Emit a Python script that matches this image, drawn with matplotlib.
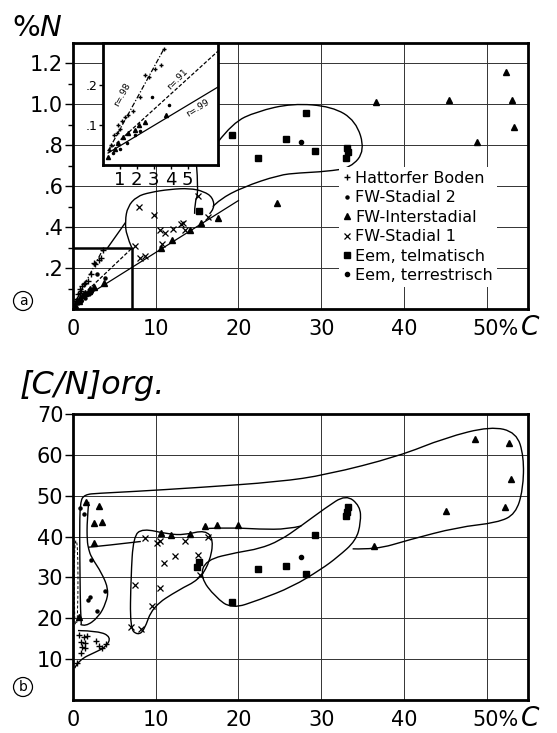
import matplotlib
matplotlib.use("Agg")
import matplotlib.pyplot as plt
import numpy as np
from matplotlib.path import Path
from matplotlib.patches import PathPatch
from matplotlib.lines import Line2D

# ---- panel a: %N against %C ----
hb_c_a = [0.35, 0.47, 0.65, 0.8, 0.9, 1.0, 1.1, 1.3, 1.5, 1.8, 2.2, 2.5, 2.7, 3.1, 3.4, 3.6]
hb_n_a = [0.037, 0.05, 0.075, 0.08, 0.1, 0.09, 0.11, 0.12, 0.125, 0.135, 0.17, 0.225, 0.22, 0.24, 0.25, 0.29]
fw2_c_a = [0.6, 1.0, 1.4, 1.9, 2.2, 2.9, 3.9]
fw2_n_a = [0.03, 0.04, 0.055, 0.075, 0.085, 0.17, 0.15]
fwi_c_a = [0.3, 0.7, 0.9, 1.2, 1.5, 1.9, 2.1, 2.5, 3.7, 10.6, 12.0, 14.2, 15.5, 17.5, 24.6,
           36.6, 45.4, 48.8, 52.3, 53.1, 53.3]
fwi_n_a = [0.02, 0.04, 0.055, 0.07, 0.08, 0.088, 0.1, 0.107, 0.125, 0.30, 0.335, 0.385, 0.42, 0.445, 0.52,
           1.01, 1.02, 0.815, 1.16, 1.02, 0.89]
fw1_c_a = [7.5, 8.0, 8.1, 8.7, 9.8, 10.5, 10.8, 11.1, 12.1, 13.1, 13.3, 13.5, 15.1, 16.3]
fw1_n_a = [0.31, 0.50, 0.25, 0.26, 0.46, 0.385, 0.32, 0.37, 0.39, 0.415, 0.42, 0.385, 0.55, 0.45]
telm_c_a = [15.2, 19.2, 22.4, 25.8, 28.2, 29.3, 33.0, 33.1, 33.3]
telm_n_a = [0.48, 0.85, 0.74, 0.83, 0.96, 0.77, 0.74, 0.785, 0.765]
terr_c_a = [27.5]
terr_n_a = [0.815]

# regression lines (r values from the inset)
reg98_c = [0.3, 3.6]
reg98_n = [0.035, 0.29]
reg91_c = [0.3, 7.2]
reg91_n = [0.035, 0.30]
reg99_c = [0.3, 20.0]
reg99_n = [0.03, 0.53]

# hand drawn outlines, panel a
telm_env_a_c = [17.5, 19.3, 22.2, 26.5, 31.3, 34.2, 35.3, 33.6, 30.6, 27.3, 24.9, 20.5, 17.7, 16.9]
telm_env_a_n = [0.815, 0.91, 0.965, 1.005, 0.99, 0.92, 0.775, 0.69, 0.672, 0.665, 0.655, 0.595, 0.535, 0.50]
s1_env_a_c = [7.1, 6.45, 6.3, 6.6, 7.7, 9.3, 11.7, 14.1, 15.8, 16.9, 17.1, 16.5]
s1_env_a_n = [0.30, 0.36, 0.43, 0.50, 0.55, 0.57, 0.585, 0.59, 0.575, 0.545, 0.49, 0.465]
s1_edge_a_c = [4.2, 6.3]
s1_edge_a_n = [0.30, 0.42]
pointer_a_c = [14.9, 15.2, 14.7, 14.7]
pointer_a_n = [0.72, 0.57, 0.52, 0.465]
box_a_c = [0, 7.1, 7.1]
box_a_n = [0.30, 0.30, 0]

# ---- panel b: C/N against %C ----
hb_c_b = [0.5, 0.7, 1.0, 1.0, 1.1, 1.3, 1.5, 1.5, 1.7, 2.8, 3.1, 3.5, 4.0]
hb_cn_b = [9, 16, 14.2, 11.5, 13, 15.5, 14, 12.7, 15.7, 14.5, 13.2, 12.7, 13.7]
fw2_c_b = [0.9, 1.3, 1.8, 2.0, 2.2, 2.9, 3.9]
fw2_cn_b = [47, 45.6, 24.5, 25.3, 34.3, 21.8, 26.7]
fwi_c_b = [0.7, 1.6, 2.5, 2.5, 3.2, 3.5, 10.6, 11.9, 14.1, 15.9, 17.4, 20.0, 36.4, 45.1, 48.6, 52.2, 52.7, 53.0]
fwi_cn_b = [20.3, 48.5, 43.4, 38.5, 47.5, 43.6, 40.9, 40.4, 40.7, 42.6, 42.9, 42.9, 37.7, 46.3, 64, 47.3, 63, 54]
fw1_c_b = [7.0, 7.5, 8.2, 8.7, 9.6, 10.2, 10.5, 10.5, 11.0, 12.3, 13.5, 15.1, 15.3, 16.3]
fw1_cn_b = [17.9, 28.2, 17.4, 39.6, 22.9, 38.5, 39.0, 27.5, 33.6, 35.3, 39.0, 35.5, 30.6, 40.0]
telm_c_b = [15.0, 15.2, 19.2, 22.4, 25.8, 28.2, 29.3, 33.0, 33.1, 33.2]
telm_cn_b = [32.5, 33.8, 24.0, 32.1, 32.8, 30.9, 40.4, 45.0, 46.0, 47.3]
terr_c_b = [27.5]
terr_cn_b = [35.0]

# hand drawn outlines, panel b
big_env_b_c = [1.0, 0.9, 0.85, 0.8, 0.85, 1.4, 3.1, 7.1, 15.2, 24.9, 30.6, 39.3, 45.0, 50.5, 53.6, 54.5,
               54.4, 53.5, 51.3, 46.5, 40.6, 36.6, 33.8]
big_env_b_cn = [18.5, 22, 30, 40, 48.5, 50.3, 50.6, 51, 52, 53.4, 55.1, 59.6, 64.2, 67.0, 65.5, 59.6,
                51.5, 45.5, 43.4, 42.3, 39.2, 36.8, 37.0]
stem_env_b_c = [1.9, 1.7, 1.7, 1.9, 2.2, 3.5, 4.3, 4.0, 3.1, 1.5, 0.9]
stem_env_b_cn = [48.5, 44, 39, 36.8, 35, 31, 27, 23.8, 20.3, 17.9, 18.5]
hb_env_b_c = [0.6, 3.1, 4.6, 4.0, 2.8, 0.7, 0.2]
hb_env_b_cn = [17.0, 16.9, 15.4, 13, 11.8, 9.8, 7.8]
band_low_b_c = [1.9, 4.0, 8.2]
band_low_b_cn = [37.4, 37.8, 38.8]
band_up_b_c = [16.4, 19.2, 22.5, 26.0, 27.6]
band_up_b_cn = [42.0, 42.2, 41.8, 41.8, 42.6]
s1_env_b_c = [8.4, 11.5, 13.5, 16.0, 17.0, 16.5, 15.2, 12.8, 9.6, 8.6, 7.8, 6.9, 7.0, 7.3]
s1_env_b_cn = [42.0, 40.6, 40.4, 41.6, 39.2, 33.6, 29.4, 27.0, 22.8, 17.0, 15.9, 17.5, 30, 40]
telm_env_b_c = [16.0, 20.0, 22.5, 25.0, 27.5, 30.5, 33.0, 34.7, 34.8, 34.2, 32.0, 30.0, 26.5, 22.5, 19.2, 17.2, 15.4]
telm_env_b_cn = [34.3, 36.2, 37.0, 39.0, 42.5, 47.0, 50.3, 47.5, 43.5, 39.0, 35.0, 32.0, 27.7, 24.5, 22.3, 25.2, 30.0]
dash_env_b_c = [0.15, 0.6, 0.6, 0.35, 0.15]
dash_env_b_cn = [39, 39, 21, 17.5, 21]

legend_labels = ["Hattorfer Boden", "FW-Stadial 2", "FW-Interstadial", "FW-Stadial 1",
                 "Eem, telmatisch", "Eem, terrestrisch"]
styles = [dict(marker="+", ms=5, mew=1.0), dict(marker="o", ms=2.2), dict(marker="^", ms=4.2),
          dict(marker="x", ms=4.2, mew=0.9), dict(marker="s", ms=4.8), dict(marker="o", ms=3.0)]

W, H = 557, 733
TICK_FS = 15


def fx(px):
    return px / W


def fy(py):
    return 1 - py / H


def smooth_outline(ax, cs, vs, closed=False, **kw):
    # quadratic b-spline through the drawn control points
    pts = np.column_stack([cs, vs]).astype(float)
    n = len(pts)
    if closed:
        mids = (pts + np.roll(pts, -1, axis=0)) / 2
        verts = [mids[-1]]
        codes = [Path.MOVETO]
        for i in range(n):
            verts += [pts[i], mids[i]]
            codes += [Path.CURVE3, Path.CURVE3]
    else:
        verts = [pts[0]]
        codes = [Path.MOVETO]
        for i in range(1, n - 1):
            end = pts[i + 1] if i == n - 2 else (pts[i] + pts[i + 1]) / 2
            verts += [pts[i], end]
            codes += [Path.CURVE3, Path.CURVE3]
    ax.add_patch(PathPatch(Path(verts, codes), fill=False, ec="black", lw=kw.pop("lw", 1.0), **kw))


def plot_series(ax, series, scale=1.0):
    for (c, v), st in zip(series, styles):
        st = dict(st)
        st["ms"] = st["ms"] * scale
        ax.plot(c, v, ls="none", color="black", zorder=4, **st)


def style_frame(ax):
    for sp in ax.spines.values():
        sp.set_linewidth(2.0)
    ax.grid(True, color="#333333", lw=0.7)
    ax.set_axisbelow(True)
    ax.tick_params(axis="x", length=0, pad=7, labelsize=TICK_FS)
    ax.tick_params(axis="y", which="major", direction="out", length=6, width=1.0, pad=1, labelsize=TICK_FS)
    ax.tick_params(axis="y", which="minor", direction="out", length=3.5, width=1.0)
    ax.set_xlim(0, 55)
    ax.set_xticks([0, 10, 20, 30, 40, 50])
    # the 50 carries the unit, written separately
    ax.set_xticklabels(["0", "10", "20", "30", "40", ""])
    ax.annotate("50%", xy=(50, 0), xycoords=("data", "axes fraction"), xytext=(-10, -7),
                textcoords="offset points", ha="left", va="top", fontsize=TICK_FS, annotation_clip=False)
    ax.annotate("C", xy=(50, 0), xycoords=("data", "axes fraction"), xytext=(25, -18.5),
                textcoords="offset points", ha="left", va="baseline", fontsize=19, style="italic",
                annotation_clip=False)


fig = plt.figure(figsize=(W / 100, H / 100), dpi=100)
fig.patch.set_facecolor("white")

# ---------------- panel a ----------------
ax_a = fig.add_axes([fx(73), fy(309), fx(528) - fx(73), fy(43) - fy(309)])
style_frame(ax_a)
ax_a.set_ylim(0, 1.3)
ax_a.set_yticks([0.2, 0.4, 0.6, 0.8, 1.0, 1.2])
ax_a.set_yticklabels([".2", ".4", ".6", ".8", "1.0", "1.2"])
ax_a.set_yticks([0.1, 0.3, 0.5, 0.7, 0.9, 1.1], minor=True)

series_a = [(hb_c_a, hb_n_a), (fw2_c_a, fw2_n_a), (fwi_c_a, fwi_n_a),
            (fw1_c_a, fw1_n_a), (telm_c_a, telm_n_a), (terr_c_a, terr_n_a)]
plot_series(ax_a, series_a)

ax_a.plot(reg98_c, reg98_n, color="black", lw=0.9, ls=(0, (4, 1.5, 1, 1.5)))
ax_a.plot(reg91_c, reg91_n, color="black", lw=0.9, ls=(0, (3, 1.5)))
ax_a.plot(reg99_c, reg99_n, color="black", lw=0.9)
ax_a.plot(box_a_c, box_a_n, color="black", lw=1.8)
ax_a.plot(s1_edge_a_c, s1_edge_a_n, color="black", lw=1.0)
smooth_outline(ax_a, telm_env_a_c, telm_env_a_n)
smooth_outline(ax_a, s1_env_a_c, s1_env_a_n)
smooth_outline(ax_a, pointer_a_c, pointer_a_n)

handles = [Line2D([], [], ls="none", color="black", **st) for st in styles]
leg = ax_a.legend(handles, legend_labels, loc="upper left", bbox_to_anchor=(0.585, 0.535),
                  fontsize=11.5, frameon=True, fancybox=False, framealpha=1, facecolor="white",
                  edgecolor="none", handlelength=0.5, handletextpad=0.25, labelspacing=0.28,
                  borderpad=0.25, borderaxespad=0)
leg.set_zorder(6)

# inset: enlargement of the box 0-7 / 0-0.3
ax_in = fig.add_axes([fx(103), fy(165), fx(218) - fx(103), fy(43) - fy(165)])
ax_in.set_facecolor("white")
ax_in.set_zorder(5)
for sp in ax_in.spines.values():
    sp.set_linewidth(2.0)
ax_in.set_xlim(0, 6.8)
ax_in.set_ylim(0, 0.305)
ax_in.set_xticks([1, 2, 3, 4, 5])
ax_in.set_xticklabels(["1", "2", "3", "4", "5"])
ax_in.set_yticks([0.1, 0.2])
ax_in.set_yticklabels([".1", ".2"])
ax_in.tick_params(axis="x", direction="out", length=3, width=1, pad=1, labelsize=13)
ax_in.tick_params(axis="y", direction="out", length=3, width=1, pad=1, labelsize=9)
plot_series(ax_in, series_a, scale=0.7)
ax_in.plot(reg98_c, reg98_n, color="black", lw=0.9, ls=(0, (4, 1.5, 1, 1.5)))
ax_in.plot(reg91_c, reg91_n, color="black", lw=0.9, ls=(0, (3, 1.5)))
ax_in.plot(reg99_c, reg99_n, color="black", lw=0.9)
ax_in.text(1.15, 0.175, "r=.98", fontsize=6.5, rotation=61, ha="center", va="center")
ax_in.text(4.4, 0.215, "r=.91", fontsize=6.5, rotation=45, ha="center", va="center")
ax_in.text(5.6, 0.142, "r=.99", fontsize=6.5, rotation=32, ha="center", va="center")

# ---------------- panel b ----------------
ax_b = fig.add_axes([fx(73), fy(700), fx(528) - fx(73), fy(414) - fy(700)])
style_frame(ax_b)
ax_b.set_ylim(0, 70)
ax_b.set_yticks([10, 20, 30, 40, 50, 60, 70])
ax_b.set_yticklabels(["10", "20", "30", "40", "50", "60", "70"])

series_b = [(hb_c_b, hb_cn_b), (fw2_c_b, fw2_cn_b), (fwi_c_b, fwi_cn_b),
            (fw1_c_b, fw1_cn_b), (telm_c_b, telm_cn_b), (terr_c_b, terr_cn_b)]
plot_series(ax_b, series_b)

smooth_outline(ax_b, big_env_b_c, big_env_b_cn)
smooth_outline(ax_b, stem_env_b_c, stem_env_b_cn)
smooth_outline(ax_b, hb_env_b_c, hb_env_b_cn)
smooth_outline(ax_b, band_low_b_c, band_low_b_cn)
smooth_outline(ax_b, band_up_b_c, band_up_b_cn)
smooth_outline(ax_b, s1_env_b_c, s1_env_b_cn, closed=True)
smooth_outline(ax_b, telm_env_b_c, telm_env_b_cn, closed=True)
smooth_outline(ax_b, dash_env_b_c, dash_env_b_cn, closed=True, lw=0.7, ls=(0, (3, 2)))

# axis titles
fig.text(fx(12), fy(36), "%$N$", fontsize=21, va="baseline")
fig.text(fx(20), fy(394), "[C/N]org.", fontsize=23, style="italic", va="baseline")

circle = dict(boxstyle="circle,pad=0.18", fc="none", ec="black", lw=0.9)
fig.text(fx(23), fy(301), "a", fontsize=10, ha="center", va="center", bbox=circle)
fig.text(fx(23), fy(687), "b", fontsize=10, ha="center", va="center", bbox=circle)

fig.savefig("out.png", dpi=100)
